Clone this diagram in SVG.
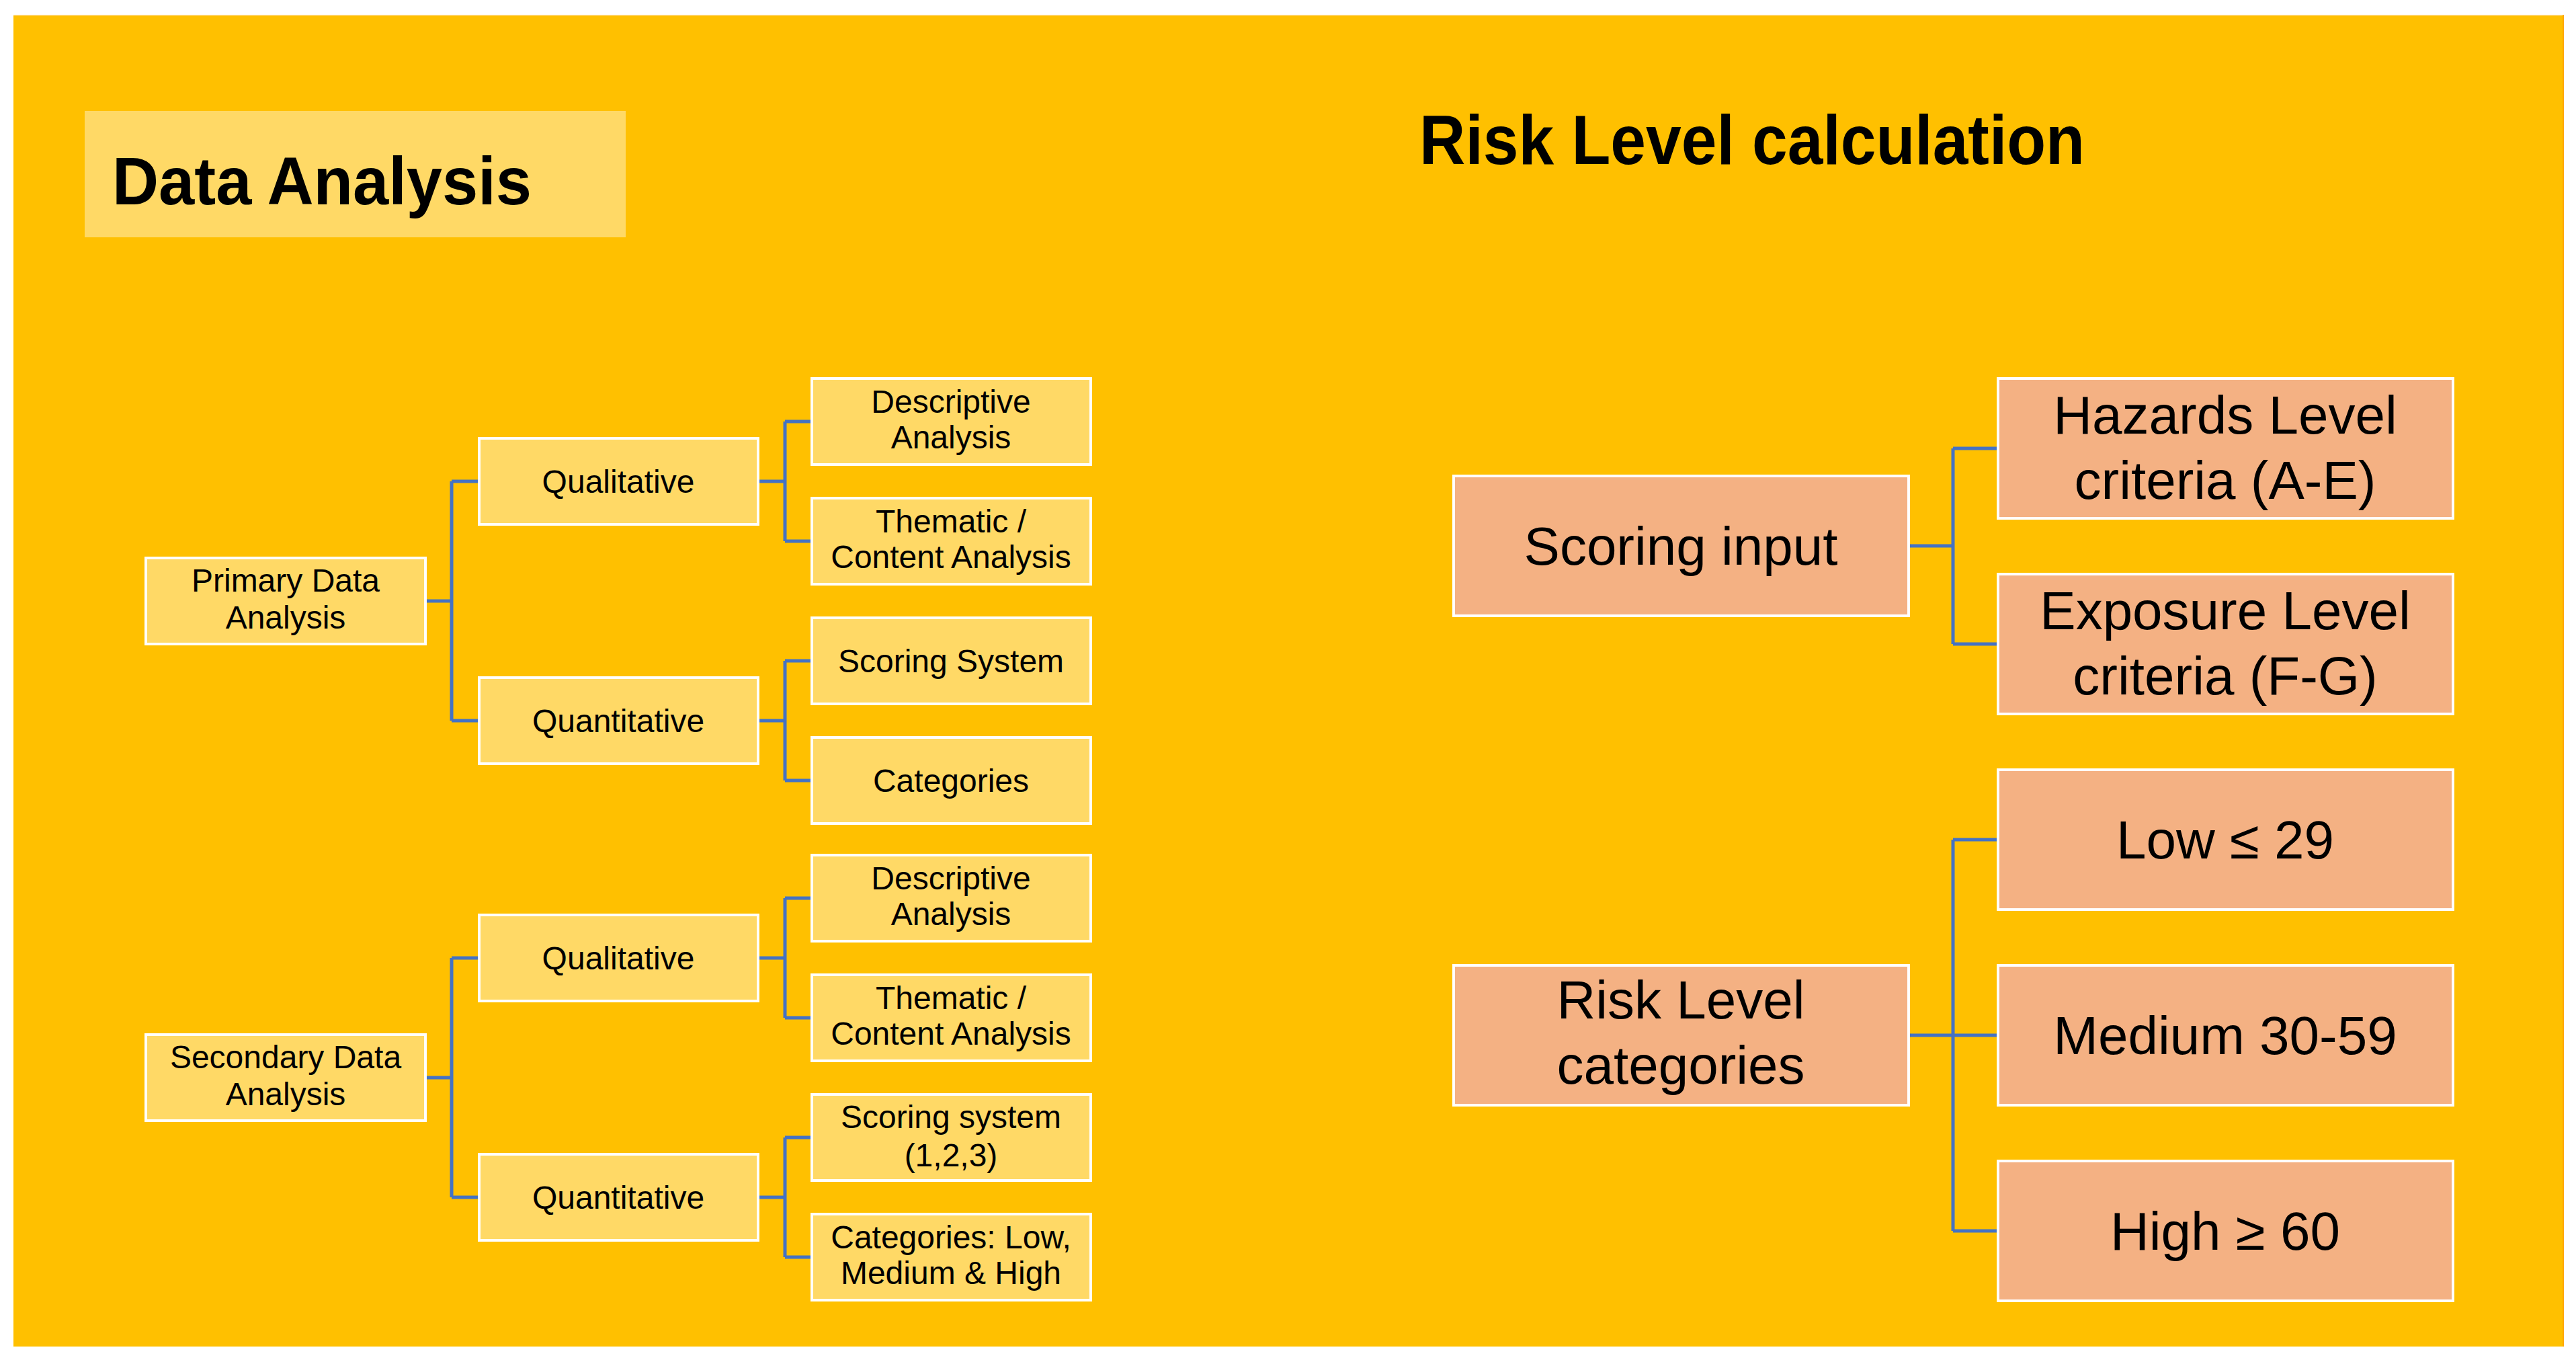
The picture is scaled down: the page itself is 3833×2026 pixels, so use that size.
<svg xmlns="http://www.w3.org/2000/svg" width="3833" height="2026" viewBox="0 0 3833 2026">
<style>
.y{fill:#FFD966;stroke:#FFFFFF;stroke-width:4}
.s{fill:#F4B183;stroke:#FFFFFF;stroke-width:4}
.t{font-family:"Liberation Sans",Arial,sans-serif;font-size:48px;fill:#000;text-anchor:middle}
.r{font-family:"Liberation Sans",Arial,sans-serif;font-size:80px;fill:#000;text-anchor:middle}
.h{font-family:"Liberation Sans",Arial,sans-serif;font-weight:bold;fill:#000}
.c{fill:none;stroke:#4472C4;stroke-width:5}
</style>
<rect x="0" y="0" width="3833" height="2026" fill="#FFFFFF"/>
<rect x="20" y="22" width="3795" height="1981" fill="#FFC000"/>
<line x1="20" y1="23" x2="3815" y2="23" stroke="#FFD05A" stroke-width="2"/>
<line x1="3814" y1="22" x2="3814" y2="2003" stroke="#FFA800" stroke-width="2"/>

<g id="title-data-analysis">
<rect x="126" y="165" width="805" height="188" fill="#FFD966"/>
<text class="h" x="167" y="304" font-size="100" textLength="624" lengthAdjust="spacingAndGlyphs">Data Analysis</text>
</g>
<g id="title-risk">
<text class="h" x="2112" y="244" font-size="104" textLength="990" lengthAdjust="spacingAndGlyphs">Risk Level calculation</text>
</g>

<g id="connectors">
<path class="c" d="M633,894 H672 M672,716 V1072 M672,716 H713 M672,1072 H713"/>
<path class="c" d="M1128,716 H1168 M1168,627 V805 M1168,627 H1208 M1168,805 H1208"/>
<path class="c" d="M1128,1072 H1168 M1168,983 V1161 M1168,983 H1208 M1168,1161 H1208"/>
<path class="c" d="M633,1603 H672 M672,1425 V1781 M672,1425 H713 M672,1781 H713"/>
<path class="c" d="M1128,1425 H1168 M1168,1336 V1514 M1168,1336 H1208 M1168,1514 H1208"/>
<path class="c" d="M1128,1781 H1168 M1168,1692 V1870 M1168,1692 H1208 M1168,1870 H1208"/>
<path class="c" d="M2840,812 H2906 M2906,667 V958 M2906,667 H2973 M2906,958 H2973"/>
<path class="c" d="M2840,1540 H2973 M2906,1249 V1831 M2906,1249 H2973 M2906,1831 H2973"/>
</g>

<g id="primary">
<rect class="y" x="217" y="830" width="416" height="128"/>
<text class="t" x="425" y="880">Primary Data</text>
<text class="t" x="425" y="935">Analysis</text>
</g>
<g id="p-qual">
<rect class="y" x="713" y="652" width="415" height="128"/>
<text class="t" x="920" y="733">Qualitative</text>
</g>
<g id="p-quant">
<rect class="y" x="713" y="1008" width="415" height="128"/>
<text class="t" x="920" y="1089">Quantitative</text>
</g>
<g id="p-desc">
<rect class="y" x="1208" y="563" width="415" height="128"/>
<text class="t" x="1415" y="614">Descriptive</text>
<text class="t" x="1415" y="667">Analysis</text>
</g>
<g id="p-them">
<rect class="y" x="1208" y="741" width="415" height="128"/>
<text class="t" x="1415" y="792">Thematic /</text>
<text class="t" x="1415" y="845">Content Analysis</text>
</g>
<g id="p-score">
<rect class="y" x="1208" y="919" width="415" height="128"/>
<text class="t" x="1415" y="1000">Scoring System</text>
</g>
<g id="p-cat">
<rect class="y" x="1208" y="1097" width="415" height="128"/>
<text class="t" x="1415" y="1178">Categories</text>
</g>

<g id="secondary">
<rect class="y" x="217" y="1539" width="416" height="128"/>
<text class="t" x="425" y="1589">Secondary Data</text>
<text class="t" x="425" y="1644">Analysis</text>
</g>
<g id="s-qual">
<rect class="y" x="713" y="1361" width="415" height="128"/>
<text class="t" x="920" y="1442">Qualitative</text>
</g>
<g id="s-quant">
<rect class="y" x="713" y="1717" width="415" height="128"/>
<text class="t" x="920" y="1798">Quantitative</text>
</g>
<g id="s-desc">
<rect class="y" x="1208" y="1272" width="415" height="128"/>
<text class="t" x="1415" y="1323">Descriptive</text>
<text class="t" x="1415" y="1376">Analysis</text>
</g>
<g id="s-them">
<rect class="y" x="1208" y="1450" width="415" height="128"/>
<text class="t" x="1415" y="1501">Thematic /</text>
<text class="t" x="1415" y="1554">Content Analysis</text>
</g>
<g id="s-score">
<rect class="y" x="1208" y="1628" width="415" height="128"/>
<text class="t" x="1415" y="1678">Scoring system</text>
<text class="t" x="1415" y="1735">(1,2,3)</text>
</g>
<g id="s-cat">
<rect class="y" x="1208" y="1806" width="415" height="128"/>
<text class="t" x="1415" y="1857">Categories: Low,</text>
<text class="t" x="1415" y="1910">Medium &amp; High</text>
</g>

<g id="scoring-input">
<rect class="s" x="2163" y="708" width="677" height="208"/>
<text class="r" x="2501" y="840">Scoring input</text>
</g>
<g id="hazards">
<rect class="s" x="2973" y="563" width="677" height="208"/>
<text class="r" x="3311" y="645">Hazards Level</text>
<text class="r" x="3311" y="742">criteria (A-E)</text>
</g>
<g id="exposure">
<rect class="s" x="2973" y="854" width="677" height="208"/>
<text class="r" x="3311" y="936">Exposure Level</text>
<text class="r" x="3311" y="1033">criteria (F-G)</text>
</g>
<g id="risk-categories">
<rect class="s" x="2163" y="1436" width="677" height="208"/>
<text class="r" x="2501" y="1515">Risk Level</text>
<text class="r" x="2501" y="1612">categories</text>
</g>
<g id="low">
<rect class="s" x="2973" y="1145" width="677" height="208"/>
<text class="r" x="3311" y="1277">Low ≤ 29</text>
</g>
<g id="medium">
<rect class="s" x="2973" y="1436" width="677" height="208"/>
<text class="r" x="3311" y="1568">Medium 30-59</text>
</g>
<g id="high">
<rect class="s" x="2973" y="1727" width="677" height="208"/>
<text class="r" x="3311" y="1859">High ≥ 60</text>
</g>
</svg>
